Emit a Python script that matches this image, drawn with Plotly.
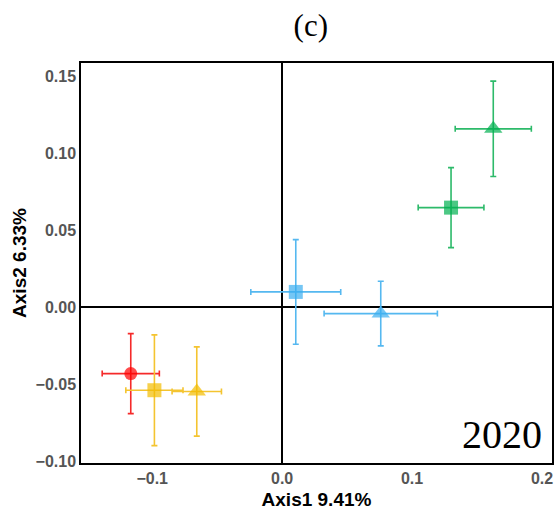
import plotly.graph_objects as go

groups = ["red", "yellow", "blue", "green"]
colors = {"red": "#FF0000", "yellow": "#F2BC00", "blue": "#3AAEEF", "green": "#00B050"}
bar_colors = {"red": "#F52A2A", "yellow": "#F4C430", "blue": "#55B8F0", "green": "#2DBA6A"}
symbols = {"red": ["circle"], "yellow": ["square", "triangle-up"],
           "blue": ["square", "triangle-up"], "green": ["square", "triangle-up"]}
x_vals = {"red": [-0.1165], "yellow": [-0.0983, -0.0657],
          "blue": [0.0105, 0.0759], "green": [0.130, 0.1625]}
y_vals = {"red": [-0.0432], "yellow": [-0.054, -0.0548],
          "blue": [0.0099, -0.0042], "green": [0.0647, 0.1159]}
x_err = {"red": [0.022], "yellow": [0.022, 0.019],
         "blue": [0.0346, 0.0436], "green": [0.0253, 0.0293]}
y_err = {"red": [0.026], "yellow": [0.036, 0.029],
         "blue": [0.034, 0.021], "green": [0.026, 0.031]}
x_ticks = [-0.1, 0.0, 0.1, 0.2]
y_ticks = [-0.10, -0.05, 0.00, 0.05, 0.10, 0.15]

fig = go.Figure()
for g in groups:
    sizes = [13 if s == "circle" else (14 if s == "square" else 16) for s in symbols[g]]
    fig.add_trace(go.Scatter(
        x=x_vals[g], y=y_vals[g], mode="markers",
        marker=dict(color=colors[g], symbol=symbols[g], size=sizes, line=dict(width=0)),
        error_x=dict(type="data", array=x_err[g], visible=True, color=bar_colors[g], thickness=1.6, width=3),
        error_y=dict(type="data", array=y_err[g], visible=True, color=bar_colors[g], thickness=1.6, width=3),
        showlegend=False,
    ))

axis_common = dict(
    showgrid=False, zeroline=True, zerolinecolor="black", zerolinewidth=1.5,
    showline=True, linecolor="black", linewidth=1.5, mirror=True, ticks="",
    tickfont=dict(family="Liberation Sans", size=16, color="#555555", weight="bold"),
)
fig.update_layout(
    width=560, height=513, plot_bgcolor="white", paper_bgcolor="white",
    margin=dict(l=81, r=6, t=63, b=47),
    title=dict(text="(c)", x=0.555, xref="container", xanchor="center", y=0.951, yref="container",
               yanchor="middle",
               font=dict(family="Liberation Serif", size=31, color="black")),
    xaxis=dict(range=[-0.1548, 0.2077], tickvals=x_ticks, ticktext=["−0.1", "0.0", "0.1", "0.2"],
               title=dict(text="Axis1 9.41%", standoff=7,
                          font=dict(family="Liberation Sans", size=19, color="black", weight="bold")),
               **axis_common),
    yaxis=dict(range=[-0.1013, 0.1587], tickvals=y_ticks,
               ticktext=["−0.10", "−0.05", "0.00", "0.05", "0.10", "0.15"],
               title=dict(text="Axis2 6.33%", standoff=4,
                          font=dict(family="Liberation Sans", size=19, color="black", weight="bold")),
               **axis_common),
    annotations=[dict(text="2020", xref="paper", yref="paper", x=0.983, y=0.01,
                      xanchor="right", yanchor="bottom", showarrow=False,
                      font=dict(family="Liberation Serif", size=40, color="black"))],
)
fig.write_html("out.html", config={"displayModeBar": False},
               post_script="document.body.style.margin='0px';")
